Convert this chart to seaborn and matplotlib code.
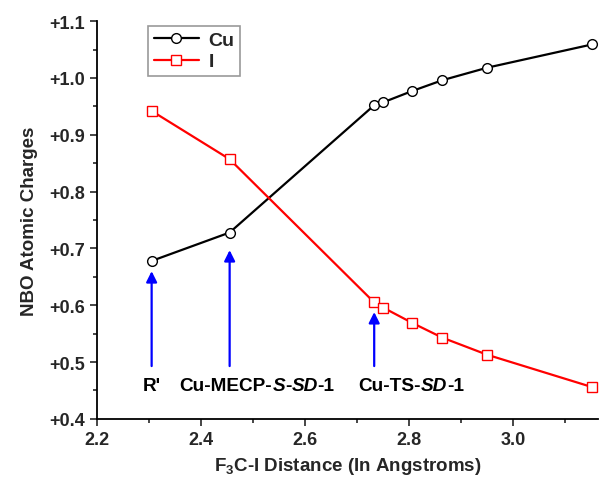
import numpy as np
import seaborn as sns
import pandas as pd
import matplotlib
matplotlib.use("Agg")
import matplotlib.pyplot as plt
from matplotlib.ticker import MultipleLocator, FuncFormatter
from matplotlib.offsetbox import TextArea, HPacker, AnnotationBbox

# distances (Angstrom) and NBO charges
distance = [2.305, 2.455, 2.733, 2.750, 2.806, 2.864, 2.950, 3.152]
cu_charge = [0.678, 0.728, 0.952, 0.957, 0.977, 0.996, 1.018, 1.059]
i_charge = [0.942, 0.857, 0.605, 0.596, 0.569, 0.543, 0.513, 0.456]

# arrow annotations: x position, arrow tip, arrow tail
arrow_x = [2.305, 2.455, 2.733]
arrow_tip = [0.660, 0.697, 0.588]
arrow_tail = [0.493, 0.493, 0.493]

sns.set_style("ticks")
plt.rcParams["font.family"] = ["Liberation Sans", "DejaVu Sans"]
plt.rcParams["font.weight"] = "bold"
plt.rcParams["mathtext.fontset"] = "custom"
plt.rcParams["mathtext.bf"] = "Liberation Sans:bold"
plt.rcParams["mathtext.rm"] = "Liberation Sans:bold"

df = pd.DataFrame({"dist": distance, "Cu": cu_charge, "I": i_charge})

fig = plt.figure(figsize=(5.99, 4.81), dpi=100)
ax = fig.add_axes([0.162, 0.127, 0.836, 0.827])

sns.lineplot(data=df, x="dist", y="Cu", ax=ax, color="black", lw=1.6,
             marker="o", ms=7, mfc="white", mec="black", mew=1.0, label="Cu")
sns.lineplot(data=df, x="dist", y="I", ax=ax, color="red", lw=1.6,
             marker="s", ms=7, mfc="white", mec="red", mew=1.0, label="I")

# arrows
for x, tip, tail in zip(arrow_x, arrow_tip, arrow_tail):
    ax.annotate("", xy=(x, tip), xytext=(x, tail),
                arrowprops=dict(arrowstyle="-|>", color="blue", lw=1.6,
                                mutation_scale=16, shrinkA=0, shrinkB=0))

# labels under the arrows (bold, some parts italic)
fs = 13.7
def label(parts, xy):
    boxes = [TextArea(t, textprops=dict(fontsize=fs, fontweight="bold",
                                         fontstyle="italic" if it else "normal",
                                         color="black"))
             for t, it in parts]
    pk = HPacker(children=boxes, pad=0, sep=0, align="baseline")
    ab = AnnotationBbox(pk, xy, frameon=False, box_alignment=(0.5, 0.5))
    ax.add_artist(ab)

label([("R'", False)], (2.306, 0.459))
label([("Cu-MECP-", False), ("S", True), ("-", False), ("SD", True), ("-1", False)], (2.508, 0.459))
label([("Cu-TS-", False), ("SD", True), ("-1", False)], (2.804, 0.459))

ax.set_xlim(2.2, 3.163)
ax.set_ylim(0.4, 1.1)
ax.xaxis.set_major_locator(MultipleLocator(0.2))
ax.xaxis.set_minor_locator(MultipleLocator(0.1))
ax.yaxis.set_major_locator(MultipleLocator(0.1))
ax.yaxis.set_minor_locator(MultipleLocator(0.05))
ax.xaxis.set_major_formatter(FuncFormatter(lambda v, p: f"{v:.1f}"))
ax.yaxis.set_major_formatter(FuncFormatter(lambda v, p: f"+{v:.1f}"))
ax.tick_params(which="major", length=5, width=1.2, labelsize=13, direction="out")
ax.tick_params(which="minor", length=3, width=1.2, direction="out")
for s in ["left", "bottom"]:
    ax.spines[s].set_linewidth(1.3)
    ax.spines[s].set_color("black")
sns.despine(ax=ax)

ax.set_xlabel(r"F$_\mathbf{3}$C-I Distance (In Angstroms)", fontsize=13.5, fontweight="bold", labelpad=5)
ax.set_ylabel("NBO Atomic Charges", fontsize=13.5, fontweight="bold", labelpad=8)

leg = ax.legend(loc="upper left", bbox_to_anchor=(0.102, 0.989), fontsize=14,
                frameon=True, fancybox=False, handlelength=2.3, borderaxespad=0,
                borderpad=0.3, labelspacing=0.2, handletextpad=0.5)
leg.get_frame().set_edgecolor("gray")
leg.get_frame().set_linewidth(1.2)

for t in ax.get_xticklabels() + ax.get_yticklabels():
    t.set_fontweight("bold")

fig.savefig("out.png", dpi=100)
